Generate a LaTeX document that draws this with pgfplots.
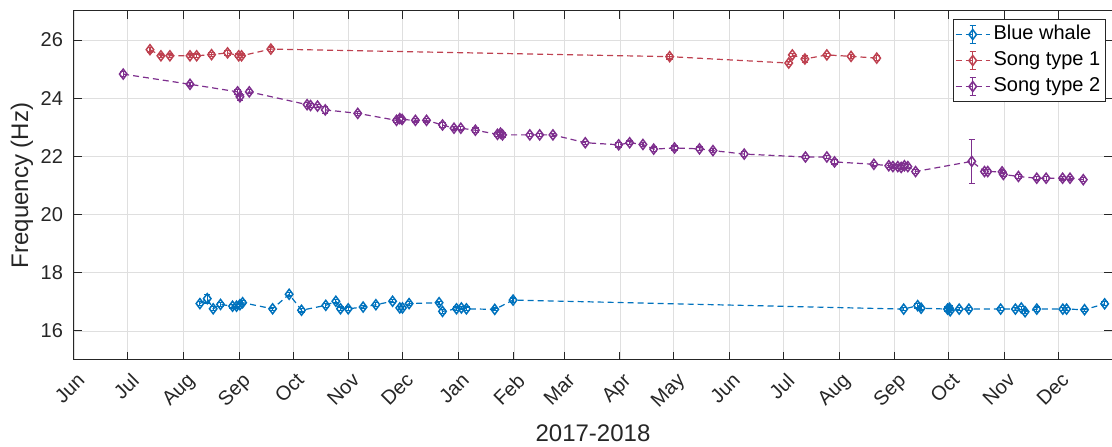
\documentclass[border=0pt]{standalone}
\usepackage{pgfplots}
\pgfplotsset{compat=1.18}
\usepackage{fontspec}
\setmainfont{Liberation Sans}
\definecolor{bw}{RGB}{0,114,189}
\definecolor{st1}{RGB}{190,65,80}
\definecolor{st2}{RGB}{126,47,142}
\definecolor{gridc}{RGB}{223,223,223}
\definecolor{axc}{RGB}{38,38,38}

\begin{document}
\begin{tikzpicture}
\begin{axis}[
  scale only axis, width=519pt, height=174.5pt,
  xmin=0, xmax=578, ymin=15, ymax=27,
  xtick={0,30,61,92,122,153,183,214,245,273,304,334,365,395,426,457,487,518,548},
  xticklabels={Jun,Jul,Aug,Sep,Oct,Nov,Dec,Jan,Feb,Mar,Apr,May,Jun,Jul,Aug,Sep,Oct,Nov,Dec},
  ytick={16,18,20,22,24,26},
  grid=major, major grid style={gridc, line width=0.4pt},
  axis line style={axc, line width=0.5pt},
  tick style={axc, line width=0.5pt},
  major tick length=4pt,
  tick align=inside,
  xticklabel style={rotate=45, anchor=north east, font=\fontsize{10}{12}\selectfont, text=axc, yshift=-1.5pt},
  yticklabel style={font=\fontsize{10}{12}\selectfont, text=axc, xshift=-2pt},
  /pgf/number format/assume math mode=true,
  xlabel={2017-2018}, ylabel={Frequency (Hz)},
  every axis x label/.style={at={(axis description cs:0.5,0)}, yshift=-36.5pt, anchor=center, font=\fontsize{12}{14}\selectfont, text=axc},
  every axis y label/.style={at={(axis description cs:0,0.5)}, xshift=-26pt, rotate=90, anchor=center, font=\fontsize{12}{14}\selectfont, text=axc},
  legend style={at={(axis description cs:0.9942,0.977)}, anchor=north east, draw=axc, line width=0.5pt, fill=white,
    font=\fontsize{10}{12}\selectfont, row sep=0pt, inner xsep=1pt, inner ysep=1pt,
    nodes={inner sep=1.6pt, text height=7.4pt, text depth=2.4pt}},
  legend cell align=left,
  legend image code/.code={
    \draw[mark repeat=2,mark phase=2,#1] plot coordinates {(0pt,0pt) (8.5pt,0pt) (17pt,0pt)};
    \draw[#1, solid] (8.5pt,-4.5pt) -- (8.5pt,4.5pt) (7pt,4.5pt) -- (10pt,4.5pt) (7pt,-4.5pt) -- (10pt,-4.5pt);
  },
  every axis plot/.append style={line width=0.6pt, dash pattern=on 3pt off 2pt, mark=diamond, mark size=2.5pt,
    mark options={solid, line width=0.75pt}},
  error bars/y dir=both, error bars/y explicit,
  error bars/error bar style={solid, line width=0.6pt},
  error bars/error mark options={rotate=90, mark size=1.6pt, solid, line width=0.6pt},
]
\addplot[color=bw] table[x=d, y=f, y error=e] {
d f e
70.1 16.94 0.07
74.2 17.11 0.15
77.5 16.76 0.07
81.6 16.91 0.07
88.3 16.85 0.06
90.5 16.85 0.06
92.4 16.90 0.06
93.9 16.97 0.07
110.6 16.76 0.05
119.8 17.26 0.06
126.7 16.71 0.06
140.2 16.88 0.07
145.8 17.02 0.06
148.4 16.76 0.06
152.7 16.76 0.06
161.0 16.82 0.06
168.1 16.90 0.07
177.4 17.02 0.05
181.4 16.79 0.06
182.9 16.79 0.06
186.6 16.94 0.07
203.3 16.97 0.05
205.2 16.67 0.06
213.0 16.76 0.06
215.7 16.79 0.06
218.5 16.76 0.06
234.3 16.74 0.05
244.5 17.06 0.07
462.0 16.75 0.06
469.8 16.87 0.08
471.7 16.78 0.06
486.4 16.75 0.07
487.5 16.78 0.08
487.9 16.69 0.06
492.9 16.75 0.06
498.3 16.75 0.06
516.0 16.75 0.06
524.2 16.75 0.06
527.5 16.79 0.06
529.6 16.66 0.06
536.1 16.75 0.07
550.6 16.75 0.06
552.7 16.75 0.06
562.7 16.73 0.05
573.9 16.93 0.07
};
\addlegendentry{Blue whale}
\addplot[color=st1] table[x=d, y=f, y error=e] {
d f e
42.3 25.67 0.08
48.4 25.46 0.06
53.4 25.46 0.06
64.6 25.46 0.06
68.3 25.46 0.06
76.6 25.50 0.07
85.5 25.56 0.08
91.7 25.46 0.06
93.3 25.46 0.06
109.6 25.69 0.07
331.7 25.43 0.08
398.0 25.21 0.06
400.0 25.49 0.06
407.0 25.35 0.12
419.2 25.49 0.06
432.7 25.44 0.06
447.0 25.38 0.09
};
\addlegendentry{Song type 1}
\addplot[color=st2] table[x=d, y=f, y error=e] {
d f e
27.4 24.83 0.08
64.6 24.48 0.06
91.1 24.22 0.08
92.4 24.05 0.12
97.6 24.22 0.07
129.8 23.78 0.07
131.7 23.75 0.07
135.6 23.73 0.06
139.9 23.60 0.12
158.0 23.48 0.06
179.6 23.24 0.07
181.4 23.30 0.12
182.7 23.27 0.08
190.1 23.24 0.06
196.3 23.24 0.06
205.2 23.08 0.08
211.6 22.97 0.06
215.4 22.97 0.06
223.5 22.90 0.08
235.8 22.76 0.07
237.5 22.80 0.10
238.6 22.74 0.07
253.8 22.74 0.06
259.3 22.74 0.06
266.7 22.74 0.06
284.7 22.47 0.05
303.3 22.40 0.08
309.4 22.47 0.06
316.8 22.41 0.08
322.8 22.25 0.07
334.4 22.29 0.07
348.3 22.26 0.06
355.8 22.20 0.07
373.2 22.08 0.08
407.3 21.98 0.06
419.2 21.98 0.06
423.5 21.81 0.07
445.4 21.73 0.06
453.7 21.68 0.07
456.0 21.65 0.07
458.7 21.65 0.07
460.6 21.62 0.08
462.4 21.68 0.08
464.3 21.65 0.06
468.6 21.48 0.06
499.9 21.83 0.76
507.0 21.48 0.06
508.8 21.48 0.06
516.8 21.47 0.06
517.5 21.38 0.07
525.9 21.31 0.07
536.1 21.25 0.06
541.3 21.25 0.07
550.5 21.25 0.06
554.6 21.25 0.06
562.0 21.20 0.07
};
\addlegendentry{Song type 2}
\end{axis}
\pgfresetboundingbox
\path ([xshift=-37pt, yshift=-43.5pt]current axis.south west) rectangle ([yshift=5.5pt]current axis.north east);
\end{tikzpicture}
\end{document}
